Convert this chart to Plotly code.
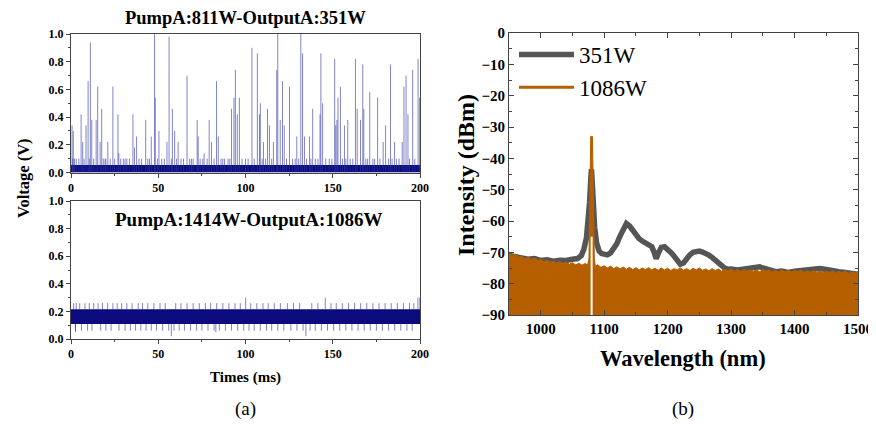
import plotly.graph_objects as go

FONT = "Liberation Serif"

# ---------------- data: (a) top panel 811W pump / 351W output ----------------
top_band = [0.055]                     # dense noise floor level (V)
top_minor_t = [1, 2, 3, 4.5, 7.5, 10.5, 13, 18.5, 19.5, 20, 22.5, 25, 28.5, 30, 31, 32, 33.5, 39, 40.5,
               44, 45, 49.5, 52, 53.5, 57.5, 60.5, 63, 64.5, 68, 69, 70, 74, 75.5, 78, 82, 86, 87, 88,
               90, 91, 98, 100, 101.5, 105, 109.5, 111.5, 115, 123.5, 127, 128.5, 130.5, 135, 137.5,
               140, 141.5, 146, 148, 149.5, 155.5, 157.5, 160, 161.5, 169, 170, 173, 174, 177, 182,
               184, 186.5, 188, 194, 197]
top_minor_v = [0.10] * len(top_minor_t)
top_spike_t = [0.6, 1.3, 5.8, 6.7, 8.6, 9.8, 11.1, 11.9, 14.4, 15.3, 16.7, 17.6, 21.1, 24.0, 26.9, 27.4,
               35.5, 36.4, 37.6, 42.8, 46.0, 47.9, 48.3, 50.4, 55.0, 56.2, 58.1, 59.4, 61.4, 66.5, 72.3,
               72.9, 76.3, 79.2, 80.5, 83.4, 84.4, 92.0, 93.4, 94.2, 95.3, 96.5, 103.7, 106.8, 108.0,
               108.5, 110.3, 112.6, 113.7, 116.0, 117.9, 118.5, 119.9, 121.2, 122.2, 125.2, 129.4,
               131.7, 132.7, 133.8, 136.7, 138.5, 142.7, 143.2, 144.2, 151.1, 151.7, 152.4, 153.0,
               154.4, 156.7, 158.6, 163.0, 164.0, 165.9, 167.2, 167.8, 171.2, 175.7, 178.9, 180.3,
               183.1, 185.4, 189.8, 190.8, 192.0, 193.1, 195.8, 198.9, 199.8]
top_spike_v = [0.34, 0.30, 0.42, 0.22, 0.34, 0.66, 0.94, 0.38, 0.38, 0.62, 0.22, 0.46, 0.22, 0.62, 0.42, 0.14,
               0.42, 0.18, 0.26, 0.38, 0.26, 1.00, 0.54, 0.30, 0.22, 0.98, 0.46, 0.30, 0.22, 0.70, 0.38,
               0.26, 0.14, 0.38, 0.22, 0.66, 0.26, 0.46, 0.54, 0.74, 0.42, 0.54, 0.90, 0.86, 0.42,
               0.50, 0.22, 0.46, 0.34, 0.22, 0.74, 1.00, 0.38, 0.66, 0.34, 0.62, 0.26,
               1.00, 0.86, 0.26, 0.26, 0.46, 0.42, 0.86, 0.50, 0.82, 0.34, 0.38, 0.54,
               0.62, 0.34, 0.38, 0.82, 0.46, 0.38, 0.78, 0.46, 0.58, 0.54, 0.22, 0.34,
               0.78, 0.22, 0.22, 0.62, 0.70, 0.42, 0.74, 0.82, 0.54]

# ---------------- data: (a) bottom panel 1414W pump / 1086W output ----------------
bot_band = [0.108, 0.215]              # dense noise band (V)
bot_up_t = [1.5, 3, 5, 8, 10.5, 13, 15.5, 18, 21, 24, 26.5, 29, 32, 35, 38.5, 41, 44, 47.5, 51, 54,
            60, 63, 66.5, 70, 73.5, 77, 80, 83.5, 87, 90.5, 94, 97, 103, 106.5, 110, 113, 116.5, 120,
            124, 127.5, 131, 138, 141.5, 149, 152, 155.5, 159, 162.5, 166, 169.5, 173, 176.5, 180,
            183.5, 187, 190.5, 194, 196.5]
bot_up_v = [0.26] * len(bot_up_t)
bot_big_t = [100.1, 145.7, 198.8, 199.9]
bot_big_v = [0.30, 0.30, 0.30, 0.30]
bot_dn_t = [2.5, 6, 9.5, 12, 17, 20, 23, 27.5, 31, 34, 37, 40, 43, 46, 49, 52.5, 56, 59, 62, 65, 68.5,
            72, 75, 78.5, 82, 85, 88.5, 92, 95.5, 99, 102, 105, 108.5, 112, 115, 118.5, 122, 126,
            129.5, 133, 137, 140, 143.5, 147, 150.5, 154, 157.5, 161, 164.5, 168, 171.5, 175,
            178.5, 182, 185.5, 189, 192.5, 195.5]
bot_dn_v = [0.06] * len(bot_dn_t)
bot_deep_t = [57.5, 134.6, 2.6, 83.0]
bot_deep_v = [0.02, 0.02, 0.05, 0.05]

# ---------------- data: (b) spectra ----------------
wl_351 = [950, 960, 970, 980, 990, 1000, 1010, 1020, 1030, 1040, 1050, 1058, 1064, 1068, 1072, 1075,
          1077, 1079, 1080, 1081, 1083, 1085, 1088, 1092, 1096, 1100, 1105, 1110, 1115, 1120, 1125,
          1130, 1135, 1140, 1145, 1150, 1155, 1160, 1165, 1170, 1175, 1178, 1182, 1186, 1190, 1195,
          1200, 1205, 1210, 1215, 1220, 1225, 1230, 1235, 1240, 1245, 1250, 1255, 1260, 1265, 1270,
          1275, 1280, 1285, 1290, 1295, 1300, 1310, 1320, 1330, 1340, 1345, 1350, 1360, 1370, 1380,
          1390, 1400, 1410, 1420, 1430, 1440, 1450, 1460, 1470, 1480, 1490, 1500]
db_351 = [-71.0, -71.4, -71.6, -72.2, -72.0, -72.6, -72.4, -72.8, -72.5, -72.6, -72.2, -72.0, -71.0, -69.0,
          -65.5, -60.0, -54.0, -46.0, -43.5, -47.0, -55.5, -62.0, -67.0, -69.6, -70.4, -70.6, -70.8,
          -70.2, -69.0, -67.2, -64.8, -62.2, -60.8, -61.6, -63.0, -64.6, -65.6, -66.4, -67.0, -67.4,
          -68.2, -69.6, -72.0, -70.0, -68.4, -68.2, -69.0, -70.0, -71.2, -72.6, -73.8, -73.4, -72.0,
          -70.8, -70.0, -69.6, -69.6, -69.9, -70.3, -70.9, -71.6, -72.6, -73.6, -74.4, -75.0, -75.4,
          -75.3, -75.6, -75.2, -75.0, -74.4, -74.6, -75.0, -75.6, -76.2, -76.0, -76.4, -76.0, -75.8,
          -75.4, -75.6, -75.2, -75.5, -76.0, -76.2, -76.4, -76.8, -77.0]

wl_1086 = [950, 955, 960, 965, 970, 975, 980, 985, 990, 995, 1000, 1005, 1010, 1015, 1020, 1025, 1030,
           1035, 1040, 1045, 1050, 1055, 1060, 1065, 1070, 1074, 1076, 1078, 1078.8, 1081.5, 1082.5,
           1084.5, 1086, 1090, 1095, 1100, 1105, 1110, 1115, 1120, 1125, 1130, 1135, 1140, 1145, 1150,
           1155, 1160, 1165, 1170, 1175, 1180, 1185, 1190, 1195, 1200, 1205, 1210, 1215, 1220, 1225,
           1230, 1235, 1240, 1245, 1250, 1255, 1260, 1265, 1270, 1275, 1280, 1285, 1290, 1295, 1300,
           1305, 1310, 1315, 1320, 1325, 1330, 1335, 1340, 1345, 1350, 1355, 1360, 1365, 1370, 1375,
           1380, 1385, 1390, 1395, 1400, 1405, 1410, 1415, 1420, 1425, 1430, 1435, 1440, 1445, 1450,
           1455, 1460, 1465, 1470, 1475, 1480, 1485, 1490, 1495, 1500]
db_1086 = [-70.2, -71.0, -70.6, -71.5, -71.2, -72.0, -71.6, -72.3, -71.8, -72.6, -72.2, -73.0, -72.4,
           -73.2, -72.8, -73.4, -72.9, -73.6, -73.1, -73.8, -73.3, -74.0, -73.5, -74.1, -73.6, -74.0,
           -72.0, -45.0, -33.0, -33.0, -45.0, -72.0, -74.5, -74.0, -74.8, -74.3, -75.0, -74.4, -75.2,
           -74.6, -75.3, -74.7, -75.4, -74.8, -75.5, -74.9, -75.6, -75.0, -75.5, -74.9, -75.6, -75.1,
           -75.7, -75.0, -75.6, -75.1, -75.8, -75.2, -75.6, -75.0, -75.7, -75.2, -75.8, -75.1, -75.6,
           -75.0, -75.7, -75.3, -75.9, -75.2, -75.8, -75.3, -76.0, -75.4, -75.9, -75.3, -76.0, -75.5,
           -76.1, -75.4, -76.0, -75.5, -76.1, -75.6, -76.2, -75.5, -76.0, -75.6, -76.2, -75.7, -76.3,
           -75.6, -76.2, -75.7, -76.3, -75.8, -76.2, -75.7, -76.4, -75.9, -76.3, -75.8, -76.4, -75.9,
           -76.5, -76.0, -76.4, -75.9, -76.6, -76.1, -76.5, -76.0, -76.7, -76.2, -76.6, -76.3, -76.8]
gap_wl = [1080.2, 1080.2]              # detector gap inside the 1086W line
gap_db = [-90, -65]

# ---------------- layout geometry ----------------
# the page body has an 8px margin, so the figure is drawn 8px in from the window corner
OFF = 8
W, H = 876 - OFF, 424 - OFF
def px_x(a, b):
    return [(a - OFF) / W, (b - OFF) / W]
def px_y(top, bottom):
    return [(H - (bottom - OFF)) / H, (H - (top - OFF)) / H]
def pxx(a):
    return (a - OFF) / W
def pxy(t):
    return (H - (t - OFF)) / H

XA = px_x(71, 420)
Y_TOP = px_y(34, 172.5)
Y_BOT = px_y(201, 339)
XB = px_x(509, 858)
YB = px_y(33, 315)

NAVY = "#0b0b7e"
SPIKE = "rgba(45,50,160,0.6)"


def segments(ts, lo, hi):
    xs, ys = [], []
    for i, t in enumerate(ts):
        xs += [t, t, None]
        ys += [lo, hi[i], None]
    return xs, ys


fig = go.Figure()

# ----- top panel -----
fig.add_trace(go.Scatter(x=[0, 200], y=top_band * 2, mode="lines", line=dict(color=NAVY, width=0),
                         fill="tozeroy", fillcolor=NAVY, xaxis="x", yaxis="y", showlegend=False,
                         hoverinfo="skip"))
sx, sy = segments(top_minor_t, 0, top_minor_v)
fig.add_trace(go.Scatter(x=sx, y=sy, mode="lines", line=dict(color=SPIKE, width=1),
                         xaxis="x", yaxis="y", showlegend=False, hoverinfo="skip"))
sx, sy = segments(top_spike_t, 0, top_spike_v)
fig.add_trace(go.Scatter(x=sx, y=sy, mode="lines", line=dict(color=SPIKE, width=1),
                         xaxis="x", yaxis="y", showlegend=False, hoverinfo="skip"))

# ----- bottom panel -----
for ts, lo, vs in [(bot_up_t, bot_band[1], bot_up_v), (bot_big_t, bot_band[1], bot_big_v),
                   (bot_dn_t, bot_band[0], bot_dn_v), (bot_deep_t, bot_band[0], bot_deep_v)]:
    sx, sy = segments(ts, lo, vs)
    fig.add_trace(go.Scatter(x=sx, y=sy, mode="lines", line=dict(color=SPIKE, width=1),
                             xaxis="x2", yaxis="y2", showlegend=False, hoverinfo="skip"))
fig.add_trace(go.Scatter(x=[0, 200], y=[bot_band[0]] * 2, mode="lines", line=dict(width=0, color=NAVY),
                         xaxis="x2", yaxis="y2", showlegend=False, hoverinfo="skip"))
fig.add_trace(go.Scatter(x=[0, 200], y=[bot_band[1]] * 2, mode="lines", line=dict(width=0, color=NAVY),
                         fill="tonexty", fillcolor=NAVY, xaxis="x2", yaxis="y2", showlegend=False,
                         hoverinfo="skip"))

# ----- spectra -----
GRAY = "#555555"
ORANGE = "#b55f00"
fig.add_trace(go.Scatter(x=wl_351, y=db_351, mode="lines", name="351W",
                         line=dict(color=GRAY, width=5.5), xaxis="x3", yaxis="y3"))
fig.add_trace(go.Scatter(x=[950, 1500], y=[-90, -90], mode="lines", line=dict(width=0, color=ORANGE),
                         xaxis="x3", yaxis="y3", showlegend=False, hoverinfo="skip"))
fig.add_trace(go.Scatter(x=wl_1086, y=db_1086, mode="lines", line=dict(color=ORANGE, width=1),
                         fill="tonexty", fillcolor=ORANGE, xaxis="x3", yaxis="y3", showlegend=False))
fig.add_trace(go.Scatter(x=gap_wl, y=gap_db, mode="lines", line=dict(color="white", width=2),
                         xaxis="x3", yaxis="y3", showlegend=False, hoverinfo="skip"))
fig.add_trace(go.Scatter(x=[None], y=[None], mode="lines", name="1086W",
                         line=dict(color=ORANGE, width=3), xaxis="x3", yaxis="y3"))

tick_a = dict(family=FONT, size=12, color="black", weight="bold")
tick_b = dict(family=FONT, size=15, color="black", weight="bold")
LC = "#444444"

def left_x(domain, anchor):
    return dict(domain=domain, range=[0, 200], anchor=anchor, tickvals=[0, 50, 100, 150, 200],
                ticks="outside", ticklen=4, tickwidth=1, tickcolor=LC, showline=True, linecolor=LC,
                linewidth=1, mirror=True, showgrid=False, zeroline=False, tickfont=tick_a,
                minor=dict(dtick=25, ticks="outside", ticklen=2, tickcolor=LC, showgrid=False))

def left_y(domain, anchor):
    return dict(domain=domain, range=[0, 1], anchor=anchor, dtick=0.2, tickformat=".1f",
                ticks="outside", ticklen=4, tickwidth=1, tickcolor=LC, showline=True, linecolor=LC,
                linewidth=1, mirror=True, showgrid=False, zeroline=False, tickfont=tick_a,
                minor=dict(dtick=0.1, ticks="outside", ticklen=2, tickcolor=LC, showgrid=False))

def mirror_x(over, anchor, rng, dtick, mdtick):
    return dict(overlaying=over, anchor=anchor, side="top", range=rng, dtick=dtick, tick0=0,
                ticks="inside", ticklen=4, tickcolor=LC, showticklabels=False, showgrid=False,
                zeroline=False, showline=False,
                minor=dict(dtick=mdtick, ticks="inside", ticklen=2, tickcolor=LC))

def mirror_y(over, anchor, rng, dtick, mdtick):
    return dict(overlaying=over, anchor=anchor, side="right", range=rng, dtick=dtick, tick0=0,
                ticks="inside", ticklen=4, tickcolor=LC, showticklabels=False, showgrid=False,
                zeroline=False, showline=False,
                minor=dict(dtick=mdtick, ticks="inside", ticklen=2, tickcolor=LC))

fig.update_layout(
    width=W, height=H, margin=dict(l=0, r=0, t=0, b=0, autoexpand=False),
    paper_bgcolor="white", plot_bgcolor="white",
    xaxis=left_x(XA, "y"), yaxis=left_y(Y_TOP, "x"),
    xaxis2=left_x(XA, "y2"), yaxis2=left_y(Y_BOT, "x2"),
    xaxis4=mirror_x("x", "y", [0, 200], 50, 25), yaxis4=mirror_y("y", "x", [0, 1], 0.2, 0.1),
    xaxis5=mirror_x("x2", "y2", [0, 200], 50, 25), yaxis5=mirror_y("y2", "x2", [0, 1], 0.2, 0.1),
    xaxis3=dict(domain=XB, range=[950, 1500], anchor="y3", tickvals=[1000, 1100, 1200, 1300, 1400, 1500],
                ticks="inside", ticklen=5, tickcolor=LC, showline=True, linecolor=LC, linewidth=1,
                mirror="ticks", showgrid=False, zeroline=False, tickfont=tick_b,
                minor=dict(tickvals=[950, 1050, 1150, 1250, 1350, 1450], ticks="inside", ticklen=3,
                           tickcolor=LC)),
    yaxis3=dict(domain=YB, range=[-90, 0], anchor="x3", dtick=10, ticks="inside", ticklen=5,
                tickcolor=LC, showline=True, linecolor=LC, linewidth=1, mirror="ticks",
                showgrid=False, zeroline=False, tickfont=tick_b,
                minor=dict(dtick=5, ticks="inside", ticklen=3, tickcolor=LC)),
    showlegend=True,
    legend=dict(x=pxx(514), y=pxy(33), xanchor="left", yanchor="top", bgcolor="rgba(0,0,0,0)",
                font=dict(family=FONT, size=23, color="black"), itemwidth=55, tracegroupgap=0,
                traceorder="normal"),
)

ann = [
    dict(text="PumpA:811W-OutputA:351W", x=245, y=18, size=18.5, bold=True),
    dict(text="PumpA:1414W-OutputA:1086W", x=248, y=219, size=19, bold=True),
    dict(text="Times (ms)", x=245, y=377, size=15, bold=True),
    dict(text="(a)", x=245, y=409, size=19, bold=False),
    dict(text="Wavelength (nm)", x=683, y=358, size=22.5, bold=True),
    dict(text="(b)", x=683, y=409, size=19, bold=False),
]
for a in ann:
    fig.add_annotation(text=a["text"], x=pxx(a["x"]), y=pxy(a["y"]), xref="paper", yref="paper",
                       showarrow=False, xanchor="center", yanchor="middle",
                       font=dict(family=FONT, size=a["size"], color="black",
                                 weight="bold" if a["bold"] else "normal"))
fig.add_annotation(text="Voltage (V)", x=pxx(23), y=pxy(178), xref="paper", yref="paper",
                   showarrow=False, textangle=-90, xanchor="center", yanchor="middle",
                   font=dict(family=FONT, size=16.5, color="black", weight="bold"))
fig.add_annotation(text="Intensity (dBm)", x=pxx(466), y=pxy(175), xref="paper", yref="paper",
                   showarrow=False, textangle=-90, xanchor="center", yanchor="middle",
                   font=dict(family=FONT, size=24, color="black", weight="bold"))

fig.write_html("out.html")
